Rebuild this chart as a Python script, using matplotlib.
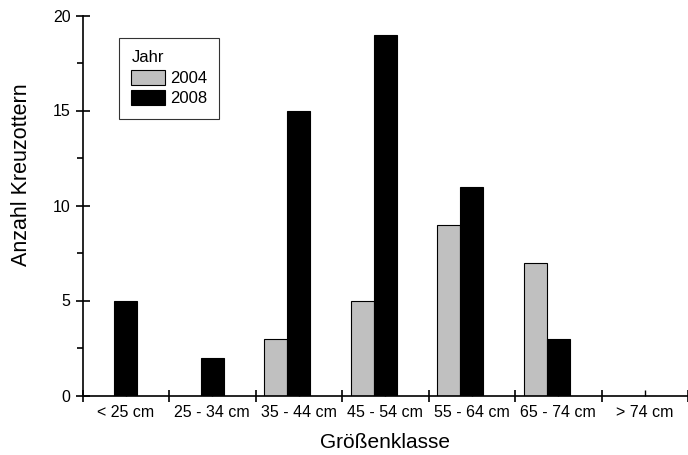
import matplotlib.pyplot as plt
import numpy as np

plt.rcParams['font.family'] = ['Liberation Sans', 'DejaVu Sans']

# data
klassen = ['< 25 cm', '25 - 34 cm', '35 - 44 cm', '45 - 54 cm', '55 - 64 cm', '65 - 74 cm', '> 74 cm']
jahr_2004 = [0, 0, 3, 5, 9, 7, 0]
jahr_2008 = [5, 2, 15, 19, 11, 3, 0]

fig = plt.figure(figsize=(6.88, 4.55), dpi=100)
ax = fig.add_axes([82.5 / 688, 1 - 395.5 / 455, 1 - 82.5 / 688, (395.5 - 15.5) / 455])

x = np.arange(len(klassen))
w = 0.265
# 2008 centred on the class, 2004 directly left of it
ax.bar(x - 1.5 * w, jahr_2004, w, align='edge', color='#c0c0c0', edgecolor='black', linewidth=0.8, label='2004')
ax.bar(x - 0.5 * w, jahr_2008, w, align='edge', color='black', edgecolor='black', linewidth=0.8, label='2008')

ax.set_xlim(-0.5, 6.434)
ax.set_ylim(0, 20)
ax.spines['top'].set_visible(False)
ax.spines['right'].set_visible(False)
for s in ['left', 'bottom']:
    ax.spines[s].set_linewidth(1.2)

ax.set_yticks([0, 5, 10, 15, 20])
ax.set_yticks([2.5, 7.5, 12.5, 17.5], minor=True)
ax.set_xticks(np.arange(len(klassen) + 1) - 0.5)
ax.set_xticklabels([])
ax.set_xticks(x, minor=True)
ax.set_xticklabels(klassen, minor=True)

ax.tick_params(axis='y', which='major', direction='inout', length=10, width=1.2, labelsize=11.5)
ax.tick_params(axis='y', which='minor', direction='out', length=4, width=1.2)
ax.tick_params(axis='x', which='major', direction='inout', length=9, width=1.2)
ax.tick_params(axis='x', which='minor', direction='in', length=4, width=1.0, labelsize=11.5, pad=7)

ax.set_xlabel('Größenklasse', fontsize=15, labelpad=9)
ax.set_ylabel('Anzahl Kreuzottern', fontsize=15.5)
ax.yaxis.set_label_coords(-0.083, 0.58)

leg = ax.legend(title='Jahr', loc='upper left', bbox_to_anchor=(0.060, 0.941), borderaxespad=0,
                fontsize=12, title_fontsize=12, frameon=True, fancybox=False, edgecolor='black',
                handlelength=2.0, handleheight=1.0, handletextpad=0.3, labelspacing=0.25, borderpad=0.75)
leg._legend_box.align = 'left'
leg.get_frame().set_linewidth(0.8)

fig.savefig('out.png', dpi=100)
